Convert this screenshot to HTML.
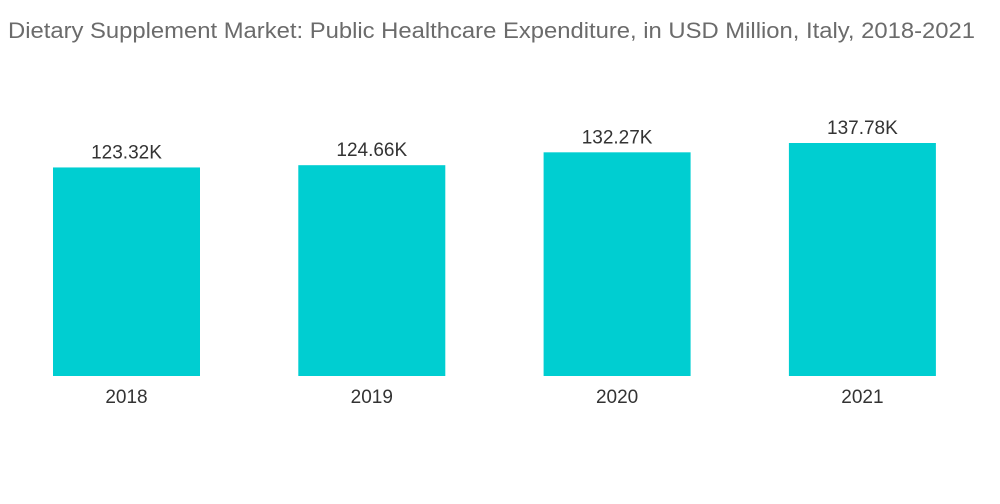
<!DOCTYPE html>
<html>
<head>
<meta charset="utf-8">
<style>
  html, body { margin: 0; padding: 0; background: #fff; }
  body { width: 1000px; height: 504px; overflow: hidden; font-family: "Liberation Sans", sans-serif; }
  svg { display: block; }
</style>
</head>
<body>
<svg id="chart" width="1000" height="504">
  <text x="8" y="38" font-size="22" textLength="967" lengthAdjust="spacingAndGlyphs" fill="#6b6b6b" font-family="Liberation Sans, sans-serif">Dietary Supplement Market: Public Healthcare Expenditure, in USD Million, Italy, 2018-2021</text>
  <g id="bars"></g>
</svg>
<script>
const categories = ["2018", "2019", "2020", "2021"];
const values = [123.32, 124.66, 132.27, 137.78];
const valueLabels = ["123.32K", "124.66K", "132.27K", "137.78K"];

const baseY = 376;
const pxPerUnit = 233 / 137.78;
const firstX = 53, step = 245.3, barW = 147;
function xPos(i) { return firstX + i * step; }
function yPos(v) { return baseY - v * pxPerUnit; }

const ns = "http://www.w3.org/2000/svg";
const g = document.getElementById("bars");
categories.forEach((c, i) => {
  const x = xPos(i), y = yPos(values[i]);
  const r = document.createElementNS(ns, "rect");
  r.setAttribute("x", x); r.setAttribute("y", y);
  r.setAttribute("width", barW); r.setAttribute("height", baseY - y);
  r.setAttribute("fill", "#00ced1");
  
  
  g.appendChild(r);

  const t = document.createElementNS(ns, "text");
  t.setAttribute("x", x + barW / 2); t.setAttribute("y", y - 9);
  t.setAttribute("text-anchor", "middle"); t.setAttribute("font-size", "19");
  t.setAttribute("fill", "#333");
  t.textContent = valueLabels[i];
  
  
  g.appendChild(t);

  const l = document.createElementNS(ns, "text");
  l.setAttribute("x", x + barW / 2); l.setAttribute("y", 403);
  l.setAttribute("text-anchor", "middle"); l.setAttribute("font-size", "19");
  l.setAttribute("fill", "#333");
  l.textContent = c;
  
  
  g.appendChild(l);
});
</script>
</body>
</html>
